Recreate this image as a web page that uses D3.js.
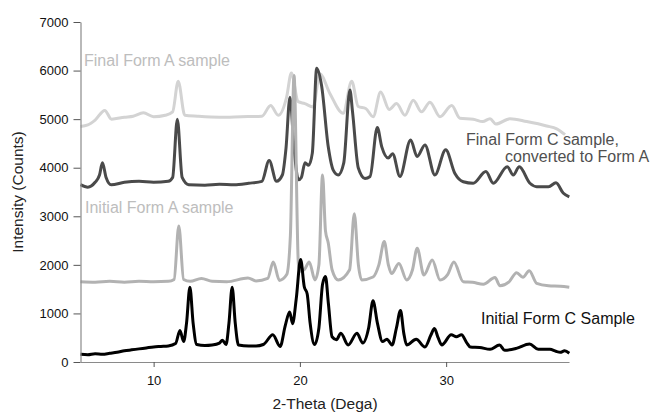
<!DOCTYPE html>
<html>
<head>
<meta charset="utf-8">
<script src="https://cdn.jsdelivr.net/npm/d3@7"></script>
<style>
  body { margin: 0; background: #fff; }
  svg { display: block; font-family: "Liberation Sans", Arial, sans-serif; }
</style>
</head>
<body>
<div id="graph"></div>
<script>
// [2-theta, counts]
var finalFormA = [[5.0,4850],[5.5,4880],[6.0,4980],[6.66,5180],[7.12,5000],[8.0,5040],[8.6,5060],[9.3,5130],[10.0,5050],[10.8,5080],[11.3,5150],[11.68,5780],[12.13,5080],[13.0,5060],[14.5,5040],[16.0,5050],[17.4,5060],[18.0,5280],[18.52,5080],[19.09,5450],[19.42,5950],[19.88,5360],[20.34,5320],[20.9,5250],[21.37,5930],[22.05,5530],[22.96,5120],[23.54,5780],[23.99,5260],[24.5,5220],[25.01,5050],[25.52,5560],[26.11,5200],[26.61,5320],[27.18,5080],[27.75,5390],[28.32,5150],[28.89,5350],[29.58,5050],[30.38,5280],[30.94,5020],[31.85,5000],[32.5,4950],[33.0,5010],[33.4,4900],[34.37,5010],[35.51,4950],[36.87,4860],[37.56,4800],[38.13,4680]];

var finalFormC = [[5.0,3650],[5.5,3600],[6.0,3700],[6.3,3850],[6.5,4100],[6.75,3800],[7.1,3650],[8.0,3700],[9.0,3720],[10.0,3700],[11.0,3720],[11.3,3800],[11.62,5000],[11.95,3800],[12.4,3650],[13.5,3640],[14.5,3660],[15.5,3650],[16.5,3680],[17.4,3720],[17.9,4150],[18.4,3720],[18.8,3850],[19.05,4400],[19.32,5450],[19.6,4400],[19.9,3750],[20.1,3800],[20.35,4100],[20.6,4050],[20.85,4300],[21.15,6050],[21.48,5700],[21.94,4430],[22.28,3950],[22.62,3850],[23.0,4100],[23.42,5600],[23.6,5150],[23.99,4000],[24.45,3780],[24.8,3820],[25.29,4830],[25.6,4430],[26.04,4200],[26.34,4290],[26.84,3820],[27.57,4570],[28.02,4230],[28.55,4470],[29.23,3850],[29.97,4370],[30.6,3880],[31.17,3710],[31.85,3680],[32.72,3920],[33.22,3680],[34.18,4020],[34.59,3850],[35.0,4020],[35.73,3680],[36.19,3610],[37.0,3610],[37.51,3690],[38.0,3480],[38.42,3400]];

var initialFormA = [[5.0,1650],[6.0,1640],[7.0,1660],[8.0,1640],[9.0,1660],[10.0,1650],[11.0,1660],[11.4,1700],[11.72,2800],[12.05,1700],[12.5,1660],[13.27,1720],[14.0,1660],[15.0,1650],[16.45,1730],[17.0,1670],[17.8,1720],[18.18,2060],[18.6,1680],[19.1,1800],[19.35,2600],[19.6,5900],[19.9,2000],[20.0,1870],[20.3,1900],[20.64,2060],[21.03,1690],[21.3,2000],[21.55,3850],[21.75,2700],[21.94,2450],[22.2,1900],[22.62,1690],[23.4,1900],[23.72,3050],[24.0,2000],[24.22,1690],[25.0,1750],[25.4,2000],[25.77,2480],[26.05,2000],[26.27,1820],[26.77,2030],[27.3,1690],[27.7,1900],[28.02,2340],[28.48,1790],[29.05,2100],[29.58,1690],[30.1,1800],[30.53,2060],[31.17,1650],[31.8,1640],[32.54,1600],[33.34,1740],[33.68,1570],[34.3,1650],[34.82,1840],[35.25,1745],[35.68,1880],[36.19,1620],[37.0,1570],[37.8,1560],[38.42,1540]];

var initialFormC = [[5.0,160],[5.5,150],[6.0,170],[6.5,160],[7.0,180],[7.5,200],[8.0,230],[8.5,250],[9.0,270],[9.5,290],[10.0,310],[10.5,320],[11.0,330],[11.5,380],[11.8,650],[12.05,420],[12.25,800],[12.48,1540],[12.7,800],[12.95,360],[13.5,340],[14.0,350],[14.5,390],[14.7,450],[14.95,360],[15.15,800],[15.37,1540],[15.58,800],[15.8,350],[16.5,330],[17.0,330],[17.5,360],[18.15,560],[18.65,320],[19.0,750],[19.3,1030],[19.5,790],[19.75,1300],[20.05,2110],[20.3,1550],[20.5,1400],[20.7,800],[21.0,360],[21.3,700],[21.55,1600],[21.75,1760],[21.95,1200],[22.2,520],[22.5,460],[22.8,590],[23.3,350],[23.9,590],[24.3,390],[24.7,700],[25.0,1260],[25.3,800],[25.65,420],[25.95,470],[26.3,350],[26.6,700],[26.88,1060],[27.1,600],[27.3,350],[27.95,470],[28.55,310],[28.95,550],[29.2,690],[29.45,500],[29.7,350],[30.35,560],[30.7,520],[31.05,560],[31.4,400],[31.65,310],[32.3,300],[33.0,260],[33.65,350],[34.0,240],[34.8,280],[35.7,370],[36.3,260],[37.1,260],[37.5,220],[37.8,200],[38.1,230],[38.42,180]];

var yTicks = [0,1000,2000,3000,4000,5000,6000,7000];
var xTicks = [10,20,30];

var series = [
    {data: finalFormA,   color: "#d3d3d3"},
    {data: finalFormC,   color: "#4a4a4a"},
    {data: initialFormA, color: "#b2b2b2"},
    {data: initialFormC, color: "#000000"}
];

var labels = [
    {text: "Final Form A sample",   x: 84,  y: 66,  color: "#bdbdbd"},
    {text: "Final Form C sample,",  x: 466, y: 145, color: "#505050"},
    {text: "converted to Form A",   x: 505, y: 162, color: "#505050"},
    {text: "Initial Form A sample", x: 85,  y: 213, color: "#bdbdbd"},
    {text: "Initial Form C Sample", x: 481, y: 324, color: "#111111"}
];

var W = 653, H = 418;

var x = d3.scaleLinear().domain([5, 38.4]).range([80.5, 569]);
var y = d3.scaleLinear().domain([0, 7000]).range([362, 22]);

var svg = d3.select("#graph").append("svg")
    .attr("width", W)
    .attr("height", H);

var line = d3.line()
    .x(function(d) { return x(d[0]); })
    .y(function(d) { return y(d[1]); })
    .curve(d3.curveMonotoneX);

// traces first, axes on top
svg.selectAll("path.trace")
    .data(series)
    .enter().append("path")
    .attr("class", "trace")
    .attr("d", function(d) { return line(d.data); })
    .attr("fill", "none")
    .attr("stroke", function(d) { return d.color; })
    .attr("stroke-width", 3)
    .attr("stroke-linejoin", "round");

var yAxis = svg.append("g")
    .attr("transform", "translate(80.5,0)")
    .call(d3.axisLeft(y).tickValues(yTicks).tickFormat(d3.format("d"))
        .tickSizeInner(7).tickSizeOuter(0).tickPadding(5));

var xAxis = svg.append("g")
    .attr("transform", "translate(0,362)")
    .call(d3.axisBottom(x).tickValues(xTicks).tickFormat(d3.format("d"))
        .tickSizeInner(5).tickSizeOuter(0).tickPadding(9));

[xAxis, yAxis].forEach(function(a) {
    a.select(".domain").attr("stroke", "#8a8a8a").attr("stroke-width", 1.2);
    a.selectAll(".tick line").attr("stroke", "#555");
    a.selectAll(".tick text").attr("fill", "#111").attr("font-size", 13)
        .attr("font-family", "'Liberation Sans', Arial, sans-serif");
});

svg.append("text")
    .attr("x", 325)
    .attr("y", 409)
    .attr("text-anchor", "middle")
    .attr("font-size", 15.5)
    .attr("fill", "#222")
    .text("2-Theta (Dega)");

svg.append("text")
    .attr("transform", "translate(23,192) rotate(-90)")
    .attr("text-anchor", "middle")
    .attr("font-size", 15.5)
    .attr("fill", "#222")
    .text("Intensity (Counts)");

svg.selectAll("text.label")
    .data(labels)
    .enter().append("text")
    .attr("class", "label")
    .attr("x", function(d) { return d.x; })
    .attr("y", function(d) { return d.y; })
    .attr("fill", function(d) { return d.color; })
    .attr("font-size", 16)
    .text(function(d) { return d.text; });
</script>
</body>
</html>
